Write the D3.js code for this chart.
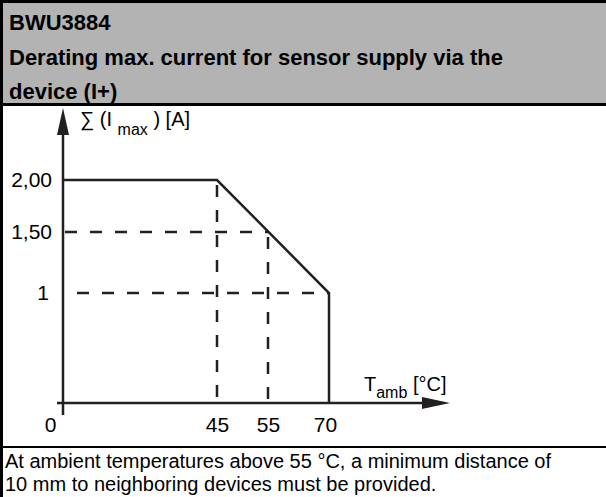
<!DOCTYPE html>
<html>
<head>
<meta charset="utf-8">
<script src="https://cdn.jsdelivr.net/npm/d3@7"></script>
<style>
  body { margin: 0; background: #fff; }
  svg { display: block; font-family: "Liberation Sans", Arial, sans-serif; }
</style>
</head>
<body>
<svg id="thesvg" width="606" height="497"></svg>
<script>
'use strict';

// chart values (schematic derating curve)
const tempTicks = [0, 45, 55, 70],
      currentTicks = [1, 1.5, 2],
      currentLabels = ["1", "1,50", "2,00"];

const curveT = [0, 45, 70, 70],
      curveI = [2, 2, 1, 0];

// dashed helper lines: vertical at temps, horizontal at currents
const vGuideT = [45, 55],
      vGuideI = [2, 1.5],
      hGuideI = [1.5, 1],
      hGuideT = [55, 70];

const titleLines = ["BWU3884",
                    "Derating max. current for sensor supply via the",
                    "device (I+)"];
const noteLines = ["At ambient temperatures above 55 °C, a minimum distance of",
                   "10 mm to neighboring devices must be provided."];

var svg = d3.select("#thesvg"),
    W = +svg.attr("width"),
    H = +svg.attr("height"),
    ink = "#231f20",
    font = "Liberation Sans, Arial, sans-serif";

// the original drawing is not to scale, so use piecewise scales
var x = d3.scaleLinear().domain([0, 45, 55, 70]).range([63, 217, 268, 329]),
    y = d3.scaleLinear().domain([0, 1, 1.5, 2]).range([403, 293, 232, 180]);

// frame
svg.append("rect").attr("x", 0).attr("y", 0).attr("width", W).attr("height", 104)
    .attr("fill", "#b3b3b3");
svg.append("rect").attr("x", 0).attr("y", 103).attr("width", W).attr("height", 3).attr("fill", "#000");
svg.append("rect").attr("x", 0).attr("y", 446).attr("width", W).attr("height", 2).attr("fill", "#000");
svg.append("rect").attr("x", 0).attr("y", 0).attr("width", W).attr("height", 3).attr("fill", "#000");
svg.append("rect").attr("x", 0).attr("y", 0).attr("width", 3).attr("height", H).attr("fill", "#000");

svg.append("g").selectAll("text")
    .data(titleLines)
  .enter().append("text")
    .attr("x", 9)
    .attr("y", function(d, i) { return 30 + i * 34.5; })
    .attr("font-size", 22)
    .attr("font-weight", "bold")
    .attr("fill", "#000")
    .text(function(d) { return d; });

svg.append("g").selectAll("text")
    .data(noteLines)
  .enter().append("text")
    .attr("x", 5)
    .attr("y", function(d, i) { return 468 + i * 23; })
    .attr("font-size", 20)
    .attr("fill", "#000")
    .text(function(d) { return d; });

// guides
var g = svg.append("g");

g.selectAll(".vguide")
    .data(vGuideT)
  .enter().append("line")
    .attr("class", "vguide")
    .attr("x1", function(d) { return x(d); })
    .attr("x2", function(d) { return x(d); })
    .attr("y1", function(d, i) { return y(vGuideI[i]) + 5; })
    .attr("y2", y(0))
    .attr("stroke", ink).attr("stroke-width", 2.5)
    .attr("stroke-dasharray", "12,13");

g.selectAll(".hguide")
    .data(hGuideI)
  .enter().append("line")
    .attr("class", "hguide")
    .attr("x1", function(d, i) { return x(0) + 2 + i * 12; })
    .attr("x2", function(d, i) { return x(hGuideT[i]); })
    .attr("y1", function(d) { return y(d); })
    .attr("y2", function(d) { return y(d); })
    .attr("stroke", ink).attr("stroke-width", 2.5)
    .attr("stroke-dasharray", "12,13");

// axes
g.append("line")
    .attr("x1", x(0)).attr("x2", x(0))
    .attr("y1", y(0) + 12).attr("y2", 125)
    .attr("stroke", ink).attr("stroke-width", 2.5);
g.append("path")
    .attr("d", "M" + x(0) + ",108L" + (x(0) + 6) + ",135L" + (x(0) - 6) + ",135Z")
    .attr("fill", ink);

g.append("line")
    .attr("x1", x(0) - 6).attr("x2", 430)
    .attr("y1", y(0)).attr("y2", y(0))
    .attr("stroke", ink).attr("stroke-width", 2.5);
g.append("path")
    .attr("d", "M450," + y(0) + "L422," + (y(0) - 6) + "L422," + (y(0) + 6) + "Z")
    .attr("fill", ink);

// derating curve
var line = d3.line()
    .x(function(d) { return x(d[0]); })
    .y(function(d) { return y(d[1]); });

g.append("path")
    .datum(d3.zip(curveT, curveI))
    .attr("d", line)
    .attr("fill", "none")
    .attr("stroke", ink)
    .attr("stroke-width", 2.5);

// tick labels
var yAxis = g.append("g")
    .attr("transform", "translate(" + x(0) + ",0)")
    .call(d3.axisLeft(y).tickValues(currentTicks)
      .tickFormat(function(d, i) { return currentLabels[i]; })
      .tickSize(0).tickPadding(11));
yAxis.select(".domain").remove();
yAxis.selectAll("text").attr("font-size", 21).attr("fill", "#000")
    .attr("font-family", font)
    .attr("dx", function(d) { return d === 1 ? -3 : 0; });

var xAxis = g.append("g")
    .attr("transform", "translate(0," + y(0) + ")")
    .call(d3.axisBottom(x).tickValues(tempTicks).tickSize(0).tickPadding(14));
xAxis.select(".domain").remove();
xAxis.selectAll("text").attr("font-size", 21).attr("fill", "#000")
    .attr("font-family", font)
    .attr("dx", function(d) { return d === 0 ? -13 : (d === 70 ? -4 : 0); });

// axis titles
var ylab = g.append("text")
    .attr("x", x(0) + 17).attr("y", 126)
    .attr("font-size", 20).attr("fill", "#000");
ylab.append("tspan").text("\u2211 (I ");
ylab.append("tspan").attr("dy", 9).attr("font-size", 16).text("max");
ylab.append("tspan").attr("dy", -9).text(" ) [A]");

var xlab = g.append("text")
    .attr("x", 364).attr("y", 391)
    .attr("font-size", 20).attr("fill", "#000");
xlab.append("tspan").text("T");
xlab.append("tspan").attr("dy", 7).attr("font-size", 16).text("amb");
xlab.append("tspan").attr("dy", -7).text(" [°C]");
</script>
</body>
</html>
